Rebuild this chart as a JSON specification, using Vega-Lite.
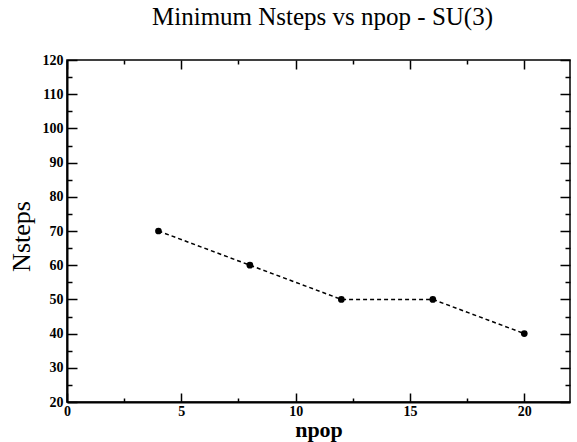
{
  "$schema": "https://vega.github.io/schema/vega-lite/v6.json",
  "width": 503,
  "height": 342,
  "autosize": {"type": "none"},
  "padding": {"left": 67, "top": 60, "right": 7, "bottom": 40},
  "background": "white",
  "config": {
    "view": {"stroke": "black", "strokeWidth": 1.5},
    "font": "Liberation Serif"
  },
  "title": {
    "text": "Minimum Nsteps vs npop - SU(3)",
    "font": "Liberation Serif",
    "fontSize": 25,
    "fontWeight": "normal",
    "color": "black",
    "anchor": "middle",
    "offset": 23,
    "dx": 4
  },
  "data": {
    "values": [
      {"npop": 4, "Nsteps": 70},
      {"npop": 8, "Nsteps": 60},
      {"npop": 12, "Nsteps": 50},
      {"npop": 16, "Nsteps": 50},
      {"npop": 20, "Nsteps": 40}
    ]
  },
  "resolve": {"axis": {"x": "independent", "y": "independent"}},
  "layer": [
    {
      "mark": {"type": "line", "color": "black", "strokeWidth": 1.5, "strokeDash": [4, 3]},
      "encoding": {
        "x": {
          "field": "npop", "type": "quantitative",
          "scale": {"domain": [0, 22], "nice": false, "zero": false},
          "axis": {
            "orient": "bottom",
            "title": "npop",
            "titleFont": "Liberation Serif",
            "titleFontSize": 22,
            "titleFontWeight": "bold",
            "titleColor": "black",
            "titleBaseline": "alphabetic",
            "titleY": 34,
            "values": [0, 2.5, 5, 7.5, 10, 12.5, 15, 17.5, 20],
            "labelExpr": "datum.value % 5 === 0 ? datum.label : ''",
            "labelFont": "Liberation Serif",
            "labelFontSize": 14,
            "labelFontWeight": "bold",
            "labelColor": "black",
            "labelPadding": 11,
            "labelFlush": false,
            "labelOverlap": false,
            "tickColor": "black",
            "tickWidth": 1.5,
            "tickSize": {"condition": {"test": "datum.value % 5 === 0", "value": -9}, "value": -4},
            "domainColor": "black",
            "domainWidth": 2,
            "grid": false
          }
        },
        "y": {
          "field": "Nsteps", "type": "quantitative",
          "scale": {"domain": [20, 120], "nice": false, "zero": false},
          "axis": {
            "orient": "left",
            "title": "Nsteps",
            "titleFont": "Liberation Serif",
            "titleFontSize": 26,
            "titleFontWeight": "normal",
            "titleColor": "black",
            "titlePadding": 8,
            "titleY": 176,
            "values": [20, 25, 30, 35, 40, 45, 50, 55, 60, 65, 70, 75, 80, 85, 90, 95, 100, 105, 110, 115, 120],
            "labelExpr": "datum.value % 10 === 0 ? datum.label : ''",
            "labelFont": "Liberation Serif",
            "labelFontSize": 14,
            "labelFontWeight": "bold",
            "labelColor": "black",
            "labelPadding": 14,
            "labelFlush": false,
            "labelOverlap": false,
            "tickColor": "black",
            "tickWidth": 1.5,
            "tickSize": {"condition": {"test": "datum.value % 10 === 0", "value": -10}, "value": -5},
            "domainColor": "black",
            "domainWidth": 2,
            "grid": false
          }
        }
      }
    },
    {
      "mark": {"type": "point", "filled": true, "color": "black", "size": 45, "opacity": 1},
      "encoding": {
        "x": {
          "field": "npop", "type": "quantitative",
          "axis": {
            "orient": "top",
            "title": null,
            "labels": false,
            "values": [0, 2.5, 5, 7.5, 10, 12.5, 15, 17.5, 20],
            "tickColor": "black",
            "tickWidth": 1.5,
            "tickSize": {"condition": {"test": "datum.value % 5 === 0", "value": -9}, "value": -4},
            "domain": false,
            "grid": false
          }
        },
        "y": {
          "field": "Nsteps", "type": "quantitative",
          "axis": {
            "orient": "right",
            "title": null,
            "labels": false,
            "values": [20, 25, 30, 35, 40, 45, 50, 55, 60, 65, 70, 75, 80, 85, 90, 95, 100, 105, 110, 115, 120],
            "tickColor": "black",
            "tickWidth": 1.5,
            "tickSize": {"condition": {"test": "datum.value % 10 === 0", "value": -10}, "value": -5},
            "domain": false,
            "grid": false
          }
        }
      }
    }
  ]
}
